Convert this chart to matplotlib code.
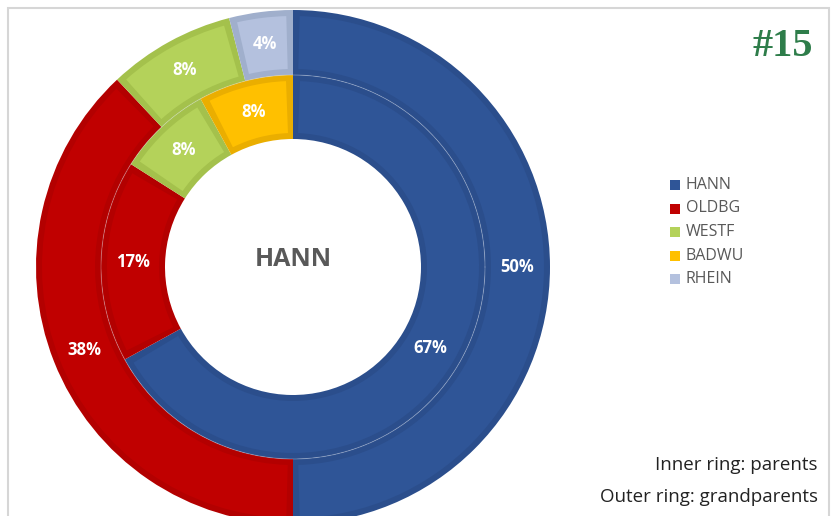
import matplotlib.pyplot as plt
from matplotlib.patches import Wedge, Rectangle
import numpy as np

# regions and shares (percent)
regions = ['HANN', 'OLDBG', 'WESTF', 'BADWU', 'RHEIN']
fill = {'HANN': '#2f5597', 'OLDBG': '#c00000', 'WESTF': '#b4d25a',
        'BADWU': '#ffc000', 'RHEIN': '#b4c1de'}
edge = {'HANN': '#2b4e8c', 'OLDBG': '#b30000', 'WESTF': '#a4c14c',
        'BADWU': '#eaae00', 'RHEIN': '#a0afcc'}

inner_names = ['HANN', 'OLDBG', 'WESTF', 'BADWU']   # parents
inner_vals = [67, 17, 8, 8]
outer_names = ['HANN', 'OLDBG', 'WESTF', 'RHEIN']   # grandparents
outer_vals = [50, 38, 8, 4]

fig = plt.figure(figsize=(8.34, 5.16), dpi=100)
ax = fig.add_axes([0, 0, 1, 1])

cx, cy = 293, 249
r_out, r_mid, r_in = 257, 192, 128
bw = 6  # bevel border width


def ring(names, vals, radius, width):
    wedges, _ = ax.pie(vals, radius=radius, center=(cx, cy), startangle=90,
                       counterclock=False, colors=[edge[n] for n in names],
                       wedgeprops=dict(width=width, linewidth=0))
    for w, n, v in zip(wedges, names, vals):
        t1, t2 = w.theta1, w.theta2
        rm = radius - width / 2
        d = np.degrees(bw / rm)
        ax.add_patch(Wedge((cx, cy), radius - bw, t1 + d, t2 - d,
                           width=width - 2 * bw, facecolor=fill[n],
                           linewidth=0, zorder=w.get_zorder() + 0.1))
        mid = np.radians((t1 + t2) / 2)
        ax.text(cx + rm * np.cos(mid), cy + rm * np.sin(mid), f'{v}%',
                ha='center', va='center', color='white', fontsize=12,
                fontweight='bold', family='Open Sans', zorder=5)


ring(outer_names, outer_vals, r_out, r_out - r_mid)
ring(inner_names, inner_vals, r_mid, r_mid - r_in)

# faint seam between the two rings
th = np.linspace(0, 2 * np.pi, 400)
ax.plot(cx + r_mid * np.cos(th), cy + r_mid * np.sin(th), color='#dfe6f2',
        lw=0.7, alpha=0.3, zorder=4)

ax.text(cx, cy + 8, 'HANN', ha='center', va='center', color='#595959',
        fontsize=18, fontweight='bold', family='Open Sans')

# legend
for i, n in enumerate(regions):
    y = 331 - i * 23.5
    ax.add_patch(Rectangle((670, y - 5), 10, 10, facecolor=fill[n],
                           edgecolor='none'))
    ax.text(686, y, n, ha='left', va='center', color='#595959',
            fontsize=11.5, family='Open Sans')

ax.text(818, 51, 'Inner ring: parents', ha='right', va='center',
        color='#222222', fontsize=13.5, family='Open Sans')
ax.text(818, 19, 'Outer ring: grandparents', ha='right', va='center',
        color='#222222', fontsize=13.5, family='Open Sans')

ax.text(813, 469, '#15', ha='right', va='center', color='#2e7d4a',
        fontsize=29, fontweight='bold', family='Liberation Serif')

# panel frame
ax.add_patch(Rectangle((8, -20), 821, 528, facecolor='none',
                       edgecolor='#d6d6d6', linewidth=1.5, zorder=0))

ax.set_xlim(0, 834)
ax.set_ylim(0, 516)
ax.set_aspect('auto')
ax.axis('off')

fig.savefig('out.png', dpi=100)
